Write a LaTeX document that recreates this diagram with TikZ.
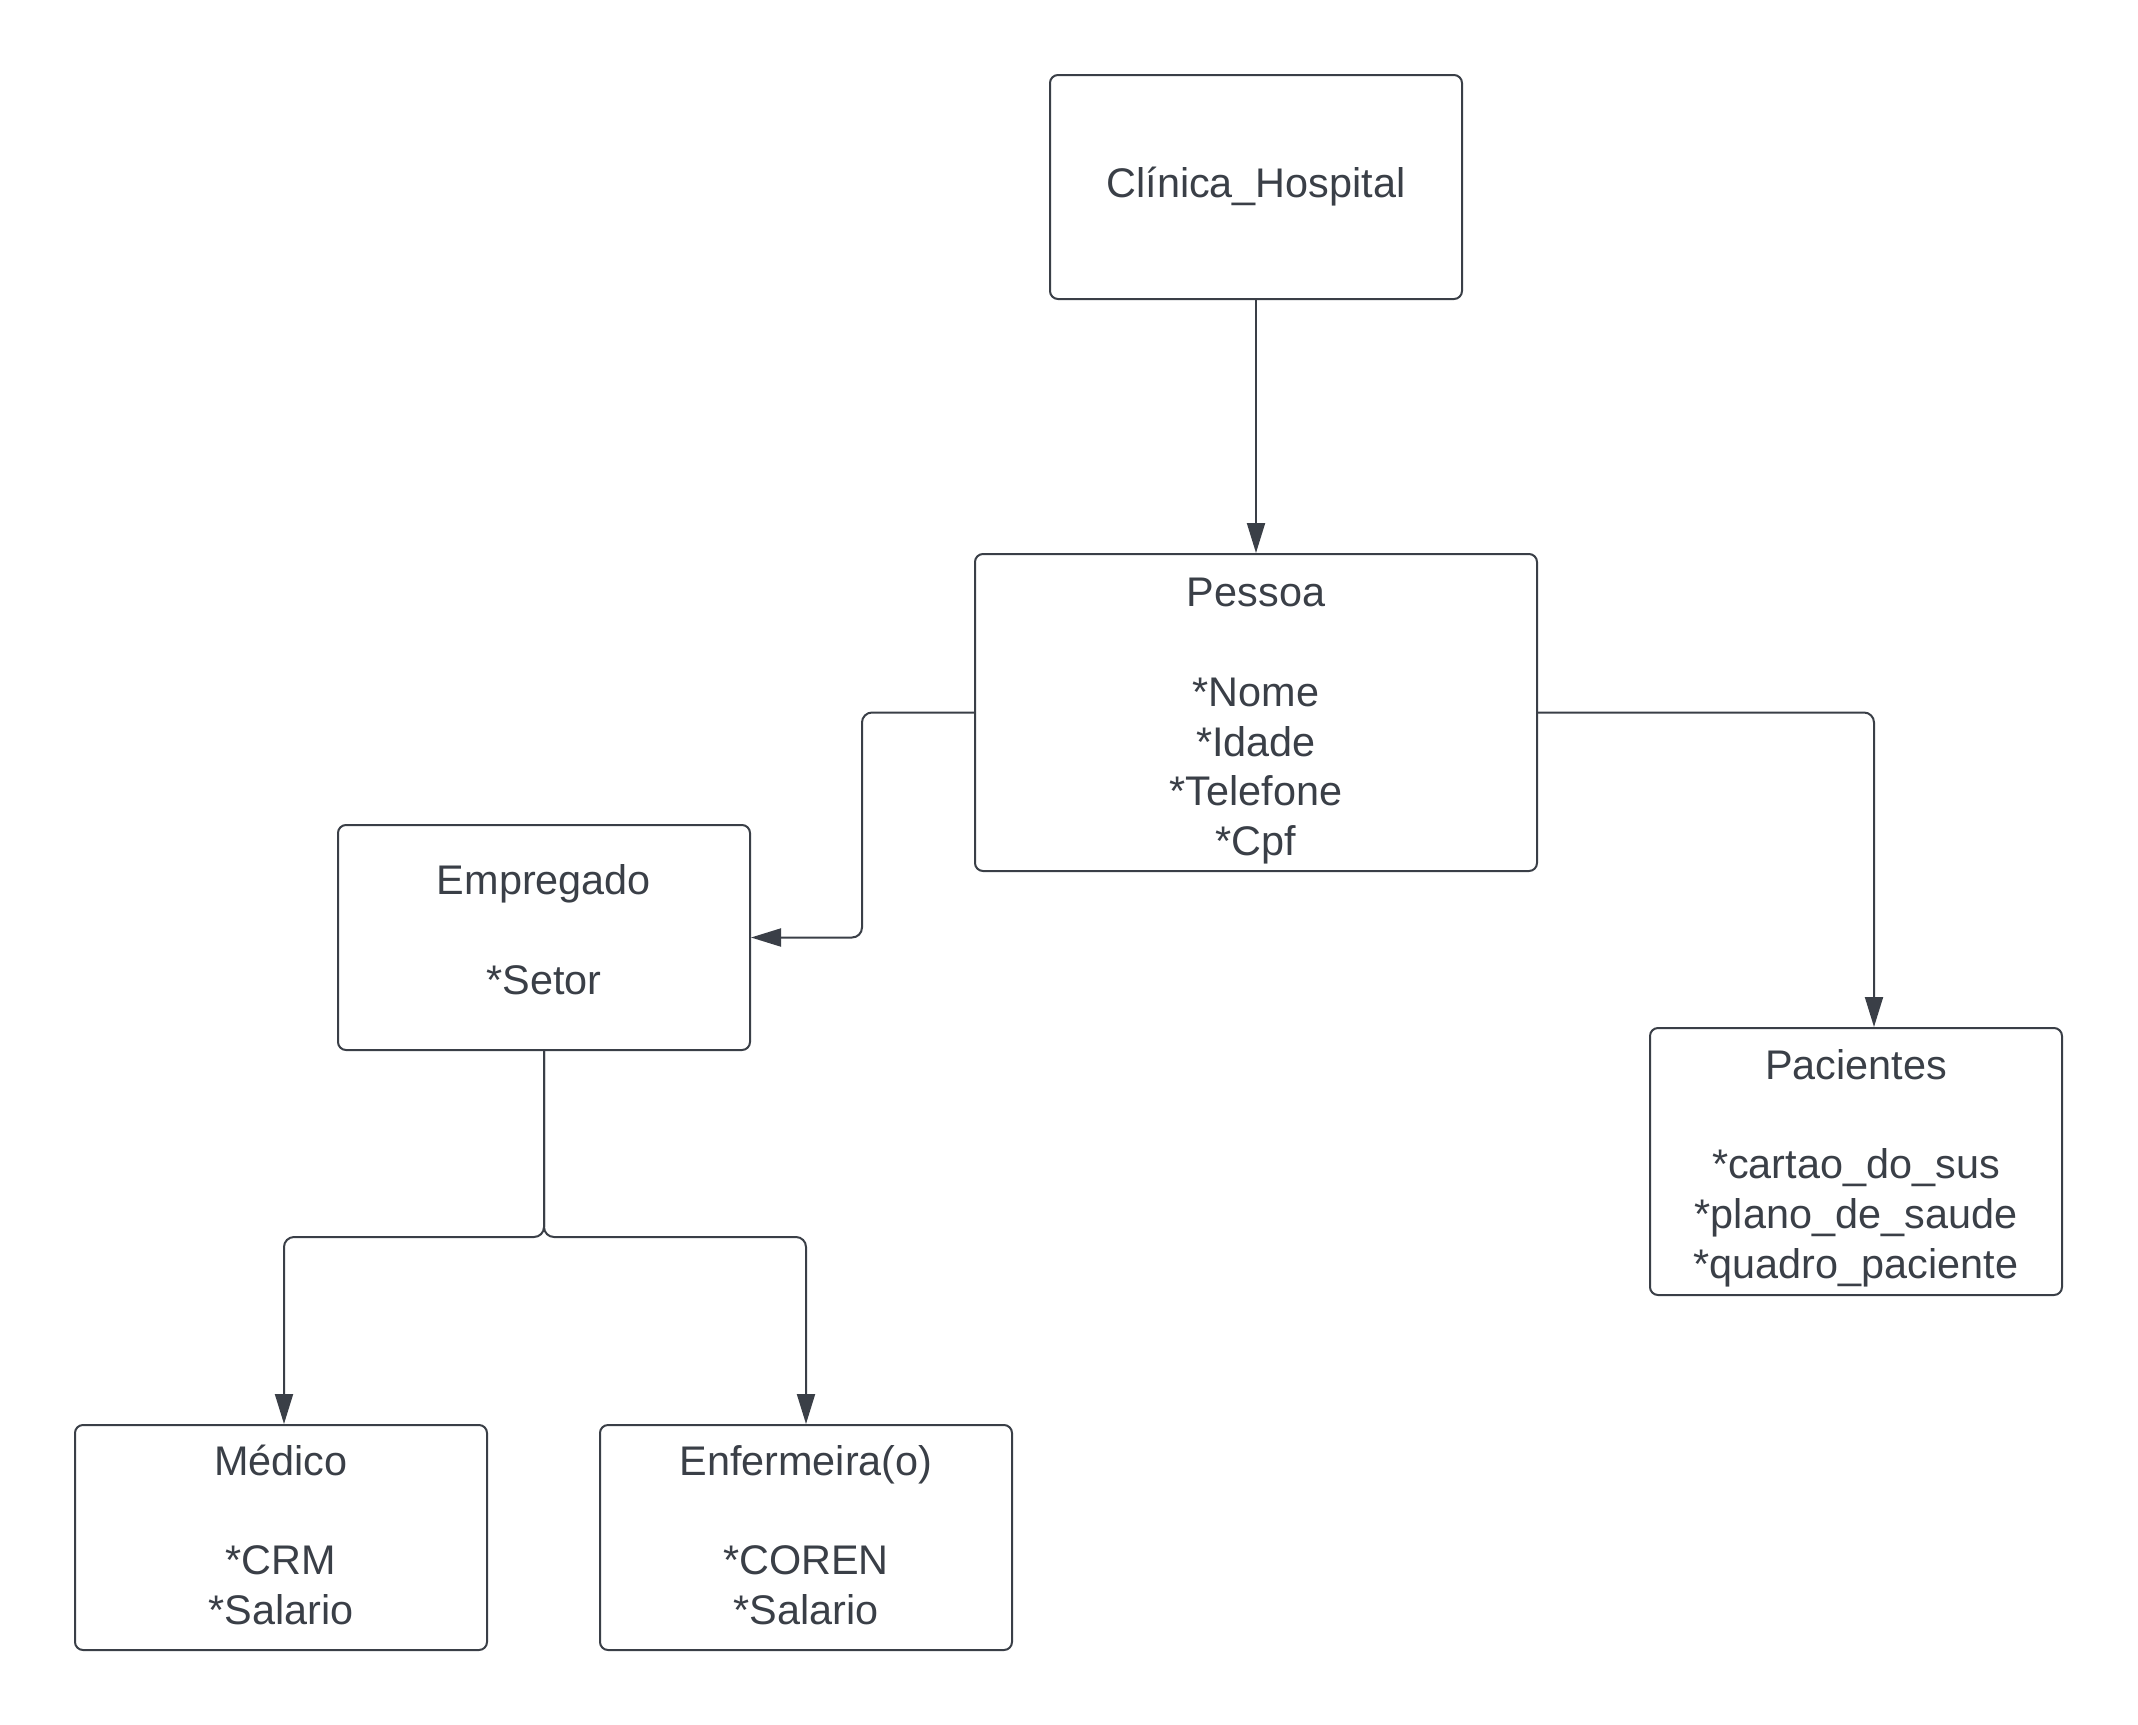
\documentclass[tikz,border=0pt]{standalone}
\usepackage{fontspec}
\setmainfont{Liberation Sans}
\usetikzlibrary{arrows.meta}
\definecolor{ink}{HTML}{3A3F47}
\tikzset{
  box/.style={draw=ink, line width=1pt, rounded corners=4pt, text=ink, align=center,
    inner sep=0pt, minimum width=206pt, font=\fontsize{20.7pt}{24.9pt}\selectfont},
  conn/.style={draw=ink, line width=1pt, rounded corners=5pt,
    -{Triangle[length=15pt,width=9pt]}}
}
\begin{document}
\begin{tikzpicture}[x=0.5pt,y=-0.5pt]
\useasboundingbox (0,0) rectangle (2138,1725);
\node[box, minimum height=112pt] (cli) at (1256,187) {Clínica\_Hospital};
\node[box, minimum width=281pt, minimum height=158.5pt] (pes) at (1256,712.5)
  {\rule{0pt}{23pt}Pessoa\\ \\ *Nome\\ *Idade\\ *Telefone\\ *Cpf};
\node[box, minimum height=112.5pt] (emp) at (544,937.5) {Empregado\\ \\ *Setor\rule[-8pt]{0pt}{1pt}};
\node[box, minimum height=133.5pt] (pac) at (1856,1161.5)
  {\rule{0pt}{21.6pt}Pacientes\\ \\ *cartao\_do\_sus\\ *plano\_de\_saude\\ *quadro\_paciente};
\node[box, minimum height=112.5pt] (med) at (281,1537.5) {Médico\\ \\ *CRM\\ *Salario\rule[-2.7pt]{0pt}{1pt}};
\node[box, minimum height=112.5pt] (enf) at (806,1537.5) {Enfermeira(o)\\ \\ *COREN\\ *Salario\rule[-2.7pt]{0pt}{1pt}};
\coordinate (lj) at (862,712.5);
\coordinate (ej) at (544,1237);
\draw[conn] (cli.south) -- (pes.north);
\draw[conn] (pes.west) -- (lj) |- (emp.east);
\draw[conn] (pes.east) -| ([xshift=9pt]pac.north);
\draw[conn] (emp.south) -- (ej) -| ([xshift=1.5pt]med.north);
\draw[conn] (emp.south) -- (ej) -| (enf.north);
\end{tikzpicture}
\end{document}
